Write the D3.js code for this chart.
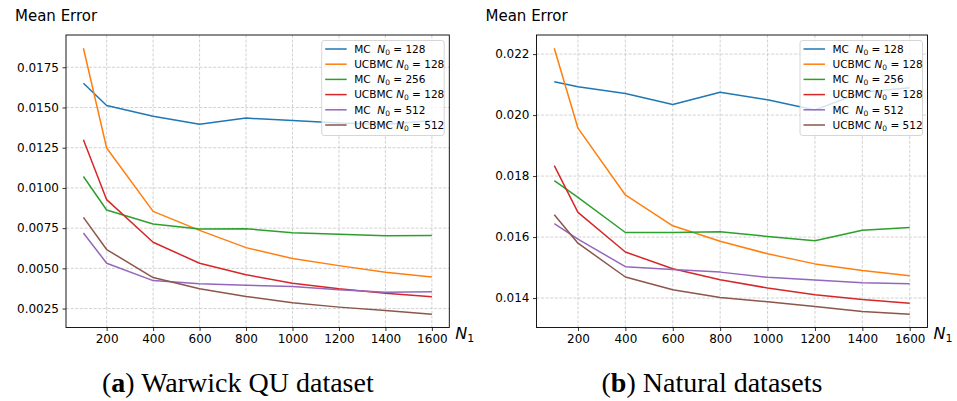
<!DOCTYPE html>
<html><head><meta charset="utf-8">
<script src="https://cdn.jsdelivr.net/npm/d3@7"></script>
<style>
html,body{margin:0;padding:0;background:#fff;}
svg{display:block;}
</style></head>
<body>
<svg id="chart" width="957" height="401"></svg>
<script>
// ---------- DATA ----------
const xValues = [100, 200, 400, 600, 800, 1000, 1200, 1400, 1600];
const xTicks = [200, 400, 600, 800, 1000, 1200, 1400, 1600];

const seriesMethods = ["MC", "UCBMC", "MC", "UCBMC", "MC", "UCBMC"];
const seriesN0 = ["128", "128", "256", "128", "512", "512"];
const seriesColors = ["#1f77b4", "#ff7f0e", "#2ca02c", "#d62728", "#9467bd", "#8c564b"];

// (a) Warwick QU dataset
const warwickMC128    = [0.01651, 0.01512, 0.01446, 0.01396, 0.01434, 0.01419, 0.01403, 0.01395, 0.01419];
const warwickUCB128   = [0.01868, 0.01248, 0.00854, 0.00736, 0.00629, 0.00561, 0.00517, 0.00476, 0.00447];
const warwickMC256    = [0.01071, 0.00863, 0.00776, 0.00745, 0.00746, 0.00722, 0.00712, 0.00702, 0.00705];
const warwickUCB128b  = [0.01299, 0.00927, 0.00662, 0.00532, 0.00460, 0.00408, 0.00373, 0.00346, 0.00323];
const warwickMC512    = [0.00720, 0.00532, 0.00424, 0.00404, 0.00395, 0.00387, 0.00367, 0.00352, 0.00355];
const warwickUCB512   = [0.00817, 0.00617, 0.00443, 0.00373, 0.00325, 0.00286, 0.00259, 0.00238, 0.00215];
const warwickYTicks = [0.0025, 0.0050, 0.0075, 0.0100, 0.0125, 0.0150, 0.0175];

// (b) Natural datasets
const naturalMC128    = [0.02109, 0.02093, 0.02071, 0.02035, 0.02075, 0.02050, 0.02017, 0.02075, 0.02090];
const naturalUCB128   = [0.02219, 0.01957, 0.01738, 0.01637, 0.01586, 0.01545, 0.01512, 0.01490, 0.01473];
const naturalMC256    = [0.01785, 0.01730, 0.01615, 0.01615, 0.01617, 0.01602, 0.01588, 0.01622, 0.01631];
const naturalUCB128b  = [0.01834, 0.01681, 0.01551, 0.01496, 0.01460, 0.01433, 0.01411, 0.01395, 0.01383];
const naturalMC512    = [0.01644, 0.01593, 0.01503, 0.01494, 0.01485, 0.01468, 0.01459, 0.01450, 0.01447];
const naturalUCB512   = [0.01673, 0.01580, 0.01469, 0.01427, 0.01402, 0.01388, 0.01372, 0.01356, 0.01347];
const naturalYTicks = [0.014, 0.016, 0.018, 0.020, 0.022];

const yLabel = "Mean Error";
const captionA = ["a", " Warwick QU dataset"];
const captionB = ["b", " Natural datasets"];

// ---------- DRAW ----------
const svg = d3.select("#chart");
const SANS = "'DejaVu Sans', sans-serif";
const SERIF = "'Liberation Serif', 'DejaVu Serif', serif";

function panel(cfg) {
  const {left, right, top, bottom, series, yTicks, yDec, legendX, caption, capX} = cfg;
  const all = series.flat();
  const ymin = d3.min(all), ymax = d3.max(all);
  const pad = (ymax - ymin) * 0.05;
  const xPad = (d3.max(xValues) - d3.min(xValues)) * 0.05;
  const x = d3.scaleLinear().domain([d3.min(xValues) - xPad, d3.max(xValues) + xPad]).range([left, right]);
  const y = d3.scaleLinear().domain([ymin - pad, ymax + pad]).range([bottom, top]);

  const g = svg.append("g").style("font-family", SANS);

  // grid
  const grid = g.append("g").attr("stroke", "#b0b0b0").attr("stroke-width", 0.8)
    .attr("stroke-dasharray", "3,1.6").attr("opacity", 0.7);
  xTicks.forEach(t => grid.append("line").attr("x1", x(t)).attr("x2", x(t)).attr("y1", top).attr("y2", bottom));
  yTicks.forEach(t => grid.append("line").attr("x1", left).attr("x2", right).attr("y1", y(t)).attr("y2", y(t)));

  // lines
  const line = d3.line().x((d, i) => x(xValues[i])).y(d => y(d));
  series.forEach((s, k) => {
    g.append("path").datum(s).attr("d", line).attr("fill", "none")
      .attr("stroke", seriesColors[k]).attr("stroke-width", 1.5).attr("stroke-linejoin", "round");
  });

  // axes
  const xAxis = d3.axisBottom(x).tickValues(xTicks).tickSize(3.5).tickPadding(3.5).tickFormat(d3.format("d"));
  const yAxis = d3.axisLeft(y).tickValues(yTicks).tickSize(3.5).tickPadding(3.5).tickFormat(d => d.toFixed(yDec));
  const gx = g.append("g").attr("transform", `translate(0,${bottom})`).call(xAxis);
  const gy = g.append("g").attr("transform", `translate(${left},0)`).call(yAxis);
  [gx, gy].forEach(a => {
    a.attr("font-family", null).attr("font-size", null);
    a.select(".domain").remove();
    a.selectAll("text").style("font-size", "12px").style("font-family", SANS).attr("fill", "#000");
    a.selectAll("line").attr("stroke", "#000").attr("stroke-width", 0.8);
  });

  // spines
  g.append("rect").attr("x", left).attr("y", top).attr("width", right - left).attr("height", bottom - top)
    .attr("fill", "none").attr("stroke", "#000").attr("stroke-width", 0.9);

  // y label
  g.append("text").attr("x", left - 51).attr("y", 21).style("font-size", "15px").text(yLabel);

  // N1 label
  const n1 = g.append("text").attr("x", right + 6).attr("y", bottom + 11).style("font-size", "16px");
  n1.append("tspan").attr("font-style", "italic").text("N");
  n1.append("tspan").style("font-size", "11px").attr("dy", 3).text("1");

  // legend
  const lw = 122.5, lh = 95, ly = 40.5;
  const lg = g.append("g");
  lg.append("rect").attr("x", legendX).attr("y", ly).attr("width", lw).attr("height", lh)
    .attr("rx", 2.5).attr("fill", "#fff").attr("fill-opacity", 0.8).attr("stroke", "#cccccc").attr("stroke-width", 0.8);
  series.forEach((s, k) => {
    const cy = ly + 8.5 + k * 15.2;
    lg.append("line").attr("x1", legendX + 3.5).attr("x2", legendX + 25).attr("y1", cy).attr("y2", cy)
      .attr("stroke", seriesColors[k]).attr("stroke-width", 1.5);
    const t = lg.append("text").attr("x", legendX + 32.5).attr("y", cy + 3.8).style("font-size", "10.5px");
    t.append("tspan").text(seriesMethods[k] + (seriesMethods[k] === "MC" ? "\u00a0\u00a0" : "\u00a0"));
    t.append("tspan").attr("font-style", "italic").text("N");
    t.append("tspan").style("font-size", "7.5px").attr("dy", 2).text("0");
    t.append("tspan").attr("dy", -2).text("\u00a0=\u00a0" + seriesN0[k]);
  });

  // caption
  const c = svg.append("text").attr("x", capX).attr("y", 392)
    .style("font-family", SERIF).style("font-size", "28px");
  c.append("tspan").text("(");
  c.append("tspan").attr("font-weight", "bold").text(caption[0]);
  c.append("tspan").text(")" + caption[1]);
}

panel({
  left: 66, right: 449.3, top: 35, bottom: 327.5,
  series: [warwickMC128, warwickUCB128, warwickMC256, warwickUCB128b, warwickMC512, warwickUCB512],
  yTicks: warwickYTicks, yDec: 4, legendX: 321.7,
  caption: captionA, capX: 102
});
panel({
  left: 536.5, right: 927.5, top: 35, bottom: 327.5,
  series: [naturalMC128, naturalUCB128, naturalMC256, naturalUCB128b, naturalMC512, naturalUCB512],
  yTicks: naturalYTicks, yDec: 3, legendX: 800,
  caption: captionB, capX: 601.5
});
</script>
</body></html>
